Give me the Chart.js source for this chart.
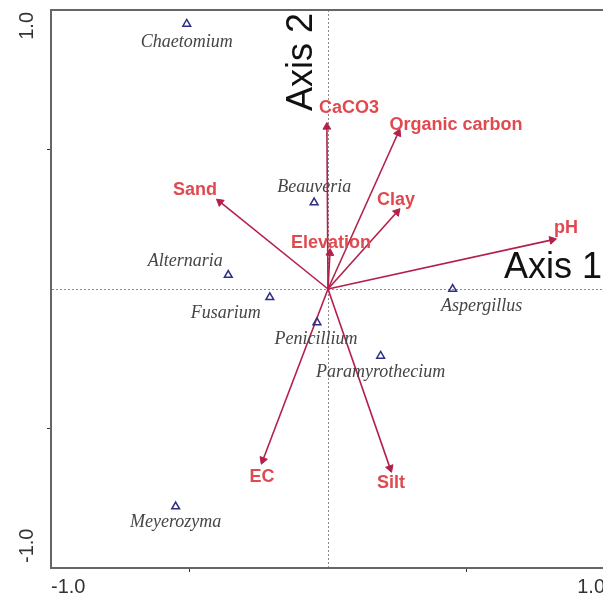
<!DOCTYPE html>
<html>
<head>
<meta charset="utf-8">
<script src="https://cdn.jsdelivr.net/npm/chart.js@4.4.0/dist/chart.umd.min.js"></script>
<style>
    html, body { margin: 0; padding: 0; overflow: hidden; background: #fff; }
</style>
</head>
<body>
<canvas id="ordChart" width="612" height="601"></canvas>
<script>
// 物种得分 (三角形)
const speciesNames = ['Chaetomium', 'Beauveria', 'Alternaria', 'Fusarium', 'Penicillium', 'Paramyrothecium', 'Aspergillus', 'Meyerozyma'];
const speciesX = [-0.51, -0.05, -0.36, -0.21, -0.04, 0.19, 0.45, -0.55];
const speciesY = [0.95, 0.31, 0.05, -0.03, -0.12, -0.24, 0.00, -0.78];

// 环境因子 (箭头)
const envNames = ['CaCO3', 'Organic carbon', 'Sand', 'Clay', 'Elevation', 'pH', 'EC', 'Silt'];
const envX = [-0.004, 0.253, -0.390, 0.249, 0.007, 0.809, -0.235, 0.224];
const envY = [0.581, 0.559, 0.312, 0.276, 0.129, 0.176, -0.613, -0.642];

// 坐标轴刻度标签
const xTickLabels = ['-1.0', '1.0'];
const yTickLabels = ['-1.0', '1.0'];

// 标签偏移 (像素)
const envLabelOffset = {
    'CaCO3': [22, -19], 'Organic carbon': [58, -8], 'Sand': [-25, -12], 'Clay': [-1, -12],
    'Elevation': [1, -10], 'pH': [14, -12], 'EC': [-1, 17], 'Silt': [1, 15]
};
const speciesLabelOffset = {
    'Chaetomium': [0, 18], 'Beauveria': [0, -15], 'Alternaria': [-43, -14], 'Fusarium': [-44, 16],
    'Penicillium': [-1, 17], 'Paramyrothecium': [0, 16], 'Aspergillus': [29, 17], 'Meyerozyma': [0, 16]
};

const arrowColor = '#b3214a';

// 文字标注插件
const labelPlugin = {
    id: 'ordLabels',
    afterDatasetsDraw(chart) {
        const ctx = chart.ctx;
        const xs = chart.scales.x, ys = chart.scales.y;
        const area = chart.chartArea;
        const x0 = xs.getPixelForValue(0), y0 = ys.getPixelForValue(0);
        ctx.save();
        ctx.textAlign = 'center';
        ctx.textBaseline = 'middle';

        ctx.font = 'bold 18px "Liberation Sans", Arial, sans-serif';
        ctx.fillStyle = '#e0494f';
        envNames.forEach(function(n, i) {
            const o = envLabelOffset[n];
            ctx.fillText(n, xs.getPixelForValue(envX[i]) + o[0], ys.getPixelForValue(envY[i]) + o[1]);
        });

        ctx.font = 'italic 18px "Liberation Serif", "Times New Roman", serif';
        ctx.fillStyle = '#454545';
        speciesNames.forEach(function(n, i) {
            const o = speciesLabelOffset[n];
            ctx.fillText(n, xs.getPixelForValue(speciesX[i]) + o[0], ys.getPixelForValue(speciesY[i]) + o[1]);
        });

        // 轴标题
        ctx.fillStyle = '#111';
        ctx.font = '36px "Liberation Sans", Arial, sans-serif';
        ctx.textAlign = 'right';
        ctx.fillText('Axis 1', area.right - 3, y0 - 21);
        ctx.save();
        ctx.translate(x0 - 26, area.top + 3);
        ctx.rotate(-Math.PI / 2);
        ctx.fillText('Axis 2', 0, 0);
        ctx.restore();

        // y 轴刻度标签 (竖排)
        ctx.font = '20px "Liberation Sans", Arial, sans-serif';
        ctx.fillStyle = '#333';
        ctx.save();
        ctx.translate(27, ys.getPixelForValue(1) + 2);
        ctx.rotate(-Math.PI / 2);
        ctx.textAlign = 'right';
        ctx.fillText(yTickLabels[1], 0, 0);
        ctx.restore();
        ctx.save();
        ctx.translate(27, ys.getPixelForValue(-1) - 5);
        ctx.rotate(-Math.PI / 2);
        ctx.textAlign = 'left';
        ctx.fillText(yTickLabels[0], 0, 0);
        ctx.restore();
        ctx.restore();
    }
};

document.addEventListener('DOMContentLoaded', function() {
    const datasets = [{
        label: 'species',
        data: speciesNames.map(function(n, i) { return { x: speciesX[i], y: speciesY[i] }; }),
        pointStyle: 'triangle',
        pointRadius: 4.5,
        borderColor: '#2e2e86',
        backgroundColor: 'rgba(255,255,255,0)',
        borderWidth: 1.5
    }];

    envNames.forEach(function(n, i) {
        datasets.push({
            label: n,
            data: [{ x: 0, y: 0 }, { x: envX[i], y: envY[i] }],
            showLine: true,
            borderColor: arrowColor,
            borderWidth: 1.6,
            pointStyle: 'triangle',
            pointRadius: [0, 4.5],
            pointBackgroundColor: arrowColor,
            pointBorderColor: arrowColor,
            pointBorderWidth: 1,
            rotation: function(c) {
                const s = c.chart.scales;
                const dx = s.x.getPixelForValue(envX[i]) - s.x.getPixelForValue(0);
                const dy = s.y.getPixelForValue(envY[i]) - s.y.getPixelForValue(0);
                return Math.atan2(dx, -dy) * 180 / Math.PI;
            }
        });
    });

    const ctx = document.getElementById('ordChart').getContext('2d');
    new Chart(ctx, {
        type: 'scatter',
        data: { datasets: datasets },
        options: {
            responsive: false,
            animation: false,
            layout: { padding: { top: 10, right: 7, left: 0, bottom: 0 } },
            plugins: { legend: { display: false }, tooltip: { enabled: false } },
            scales: {
                x: {
                    type: 'linear', min: -1, max: 1,
                    afterBuildTicks: function(s) { s.ticks = [-1, -0.5, 0, 0.5, 1].map(function(v) { return { value: v }; }); },
                    afterFit: function(s) { s.height = 33; },
                    ticks: {
                        align: 'inner',
                        padding: 3,
                        color: '#333',
                        font: { size: 20, family: '"Liberation Sans", Arial, sans-serif' },
                        callback: function(v) { return v === -1 ? xTickLabels[0] : (v === 1 ? xTickLabels[1] : ''); }
                    },
                    grid: {
                        color: function(c) { return c.tick && c.tick.value === 0 ? '#8a8a8a' : 'rgba(0,0,0,0)'; },
                        tickColor: function(c) { return c.tick && Math.abs(c.tick.value) === 0.5 ? '#333' : 'rgba(0,0,0,0)'; },
                        tickLength: 4,
                        lineWidth: 1
                    },
                    border: { display: true, color: '#666', width: 2, dash: [2, 2] }
                },
                x2: {
                    type: 'linear', position: 'top', min: -1, max: 1,
                    afterFit: function(s) { s.height = 0; },
                    ticks: { display: false },
                    grid: { display: false, drawTicks: false },
                    border: { display: true, color: '#666', width: 2 }
                },
                y: {
                    type: 'linear', min: -1, max: 1,
                    afterBuildTicks: function(s) { s.ticks = [-1, -0.5, 0, 0.5, 1].map(function(v) { return { value: v }; }); },
                    afterFit: function(s) { s.width = 51; },
                    ticks: { display: false },
                    grid: {
                        color: function(c) { return c.tick && c.tick.value === 0 ? '#8a8a8a' : 'rgba(0,0,0,0)'; },
                        tickColor: function(c) { return c.tick && Math.abs(c.tick.value) === 0.5 ? '#333' : 'rgba(0,0,0,0)'; },
                        tickLength: 4,
                        lineWidth: 1
                    },
                    border: { display: true, color: '#666', width: 2, dash: [2, 2] }
                }
            }
        },
        plugins: [labelPlugin]
    });
});
</script>
</body>
</html>
